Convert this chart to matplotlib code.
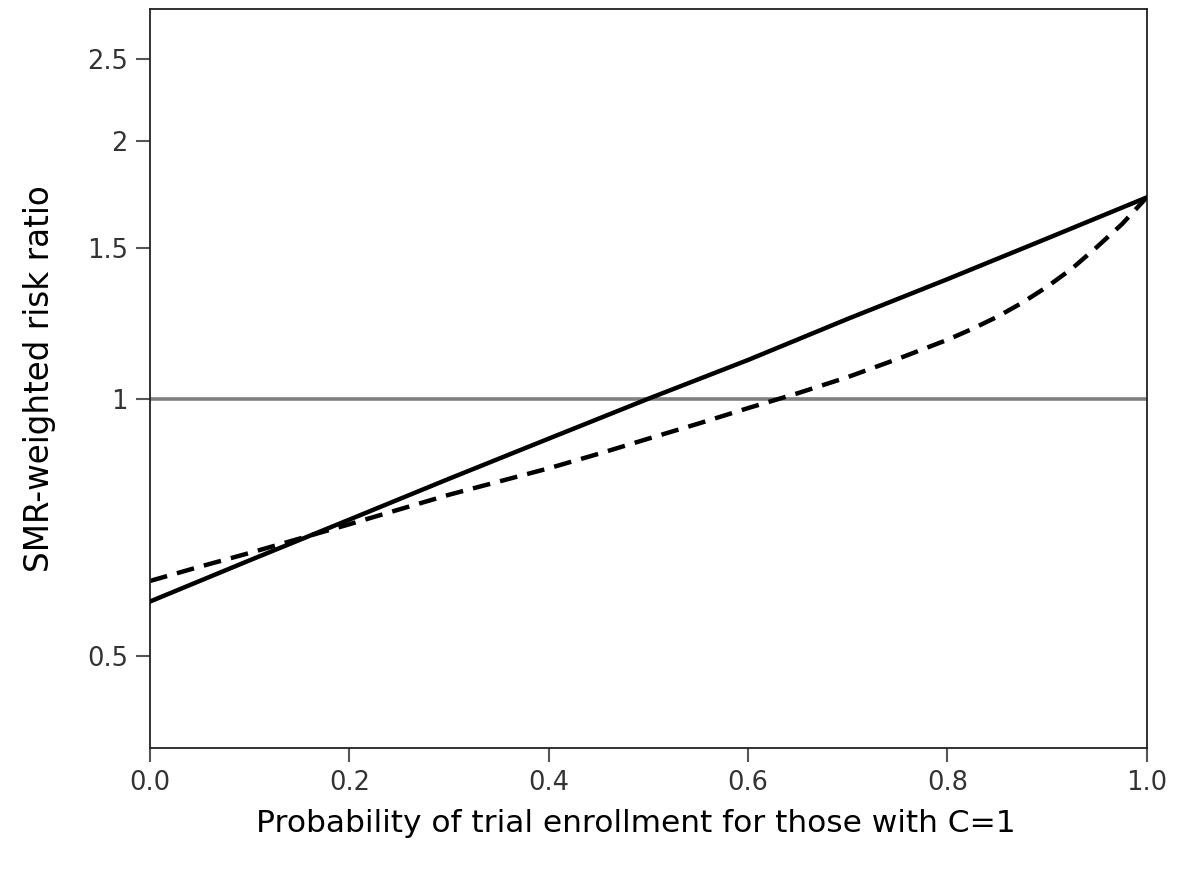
import numpy as np
import matplotlib.pyplot as plt

# ---------------------------------------------------------------------------
# DATA
# ---------------------------------------------------------------------------

p_solid  = [0.0, 0.1, 0.2, 0.3, 0.4, 0.5, 0.6, 0.7, 0.8, 0.9, 1.0]
rr_solid = [0.579, 0.647, 0.722, 0.806, 0.898, 1.00, 1.11, 1.24, 1.38, 1.54, 1.72]

p_dash  = [0.0, 0.05, 0.1, 0.15, 0.2, 0.25, 0.3, 0.35, 0.4, 0.45, 0.5, 0.55,
           0.6, 0.65, 0.7, 0.75, 0.8, 0.825, 0.85, 0.875, 0.9, 0.925, 0.95,
           0.975, 1.0]
rr_dash = [0.612, 0.636, 0.660, 0.686, 0.713, 0.742, 0.772, 0.800, 0.829, 0.862,
           0.898, 0.935, 0.975, 1.015, 1.06, 1.113, 1.172, 1.207, 1.247, 1.295,
           1.352, 1.42, 1.505, 1.60, 1.72]

ref_value = 1.0

yticks = [0.5, 1, 1.5, 2, 2.5]
ytick_labels = ["0.5", "1", "1.5", "2", "2.5"]
xticks = [0.0, 0.2, 0.4, 0.6, 0.8, 1.0]
xtick_labels = ["0.0", "0.2", "0.4", "0.6", "0.8", "1.0"]

# ---------------------------------------------------------------------------
# FIGURE
# ---------------------------------------------------------------------------

plt.rcParams.update({
    "font.family": "DejaVu Sans",
})

fig = plt.figure(figsize=(11.81, 8.71), dpi=100)
ax = fig.add_axes([0.127, 0.141, 0.844, 0.849])

ax.axhline(ref_value, color="#808080", linewidth=2.6, zorder=1)
ax.plot(p_solid, rr_solid, color="black", linewidth=3.2, zorder=3)
ax.plot(p_dash, rr_dash, color="black", linewidth=3.2,
        linestyle=(0, (4.0, 2.3)), zorder=2)

ax.set_yscale("log")
ax.set_ylim(0.39, 2.86)
ax.set_xlim(0.0, 1.0)

ax.set_yticks(yticks)
ax.set_yticklabels(ytick_labels)
ax.yaxis.set_minor_locator(plt.NullLocator())
ax.set_xticks(xticks)
ax.set_xticklabels(xtick_labels)

ax.tick_params(axis="both", direction="out", length=10, width=1.5,
               color="#555555", labelcolor="#333333", labelsize=18.5, pad=6)

for s in ax.spines.values():
    s.set_linewidth(1.3)
    s.set_color("#222222")

xl = ax.set_xlabel("Probability of trial enrollment for those with C=1",
                   fontsize=22.5)
xl.set_verticalalignment("center")
ax.xaxis.set_label_coords(0.487, -0.102)
ax.set_ylabel("SMR-weighted risk ratio", fontsize=23.5, labelpad=22)

plt.savefig("out.png", dpi=100)
plt.close()
